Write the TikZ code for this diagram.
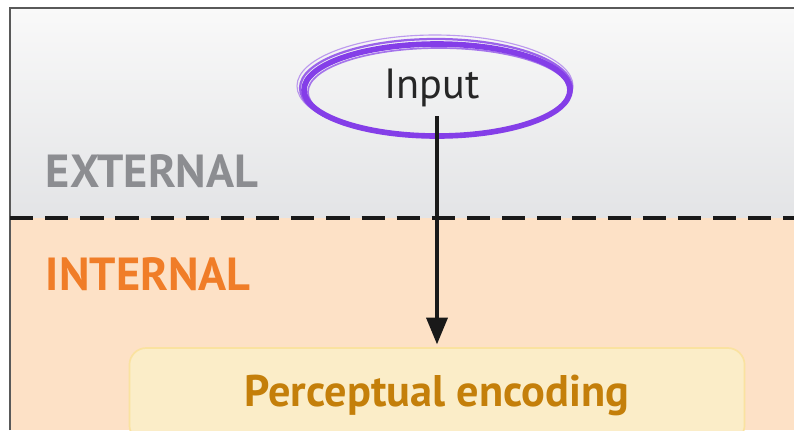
\documentclass[tikz,border=0pt]{standalone}
\usepackage{fontspec}
\setmainfont{PT Sans}
\definecolor{extgray}{RGB}{140,141,145}
\definecolor{exttop}{RGB}{249,249,249}
\definecolor{extbot}{RGB}{227,228,230}
\definecolor{intpeach}{RGB}{253,225,198}
\definecolor{intorange}{RGB}{240,125,40}
\definecolor{encfill}{RGB}{251,237,200}
\definecolor{encedge}{RGB}{250,226,160}
\definecolor{enctext}{RGB}{196,127,10}
\definecolor{inpurple}{RGB}{132,62,232}
\usetikzlibrary{arrows.meta,positioning,shapes.geometric}

\begin{document}
\begin{tikzpicture}[x=0.025cm, y=-0.025cm,
  zone/.style={font=\fontsize{33}{33}\selectfont\bfseries, anchor=west},
  bx/.style={rounded corners=12pt, draw=encedge, fill=encfill, line width=1.2pt,
    minimum width=15.375cm, minimum height=2.35cm},
  brush/.style={inpurple, line width=#1}]
\clip (0,0) rectangle (794,430);
% Regions
\shade[top color=exttop, bottom color=extbot] (10,8) rectangle (794,218);
\fill[intpeach] (10,218) rectangle (794,430);
\draw[line width=1.5pt, black!65] (10,430) -- (10,8) -- (794,8);
\draw[line width=2.2pt, black!90, dash pattern=on 16.5pt off 8.5pt] (10,218) -- (794,218);
\node[zone, extgray] (external) at (41,171) {EXTERNAL};
\node[zone, intorange] (internal) at (41,274) {INTERNAL};
% Input
\node[font=\fontsize{30}{30}\selectfont, text=black!85] (input) at (432,88) {Input};
\draw[brush=4pt] (437,90) ellipse (133 and 46);
\draw[brush=1.6pt, opacity=0.8] (436,88) ellipse (136 and 49);
\draw[brush=1.2pt, opacity=0.7] (439,92) ellipse (131 and 44);
\draw[brush=0.8pt, opacity=0.5] (435,86) ellipse (138 and 51);
% Encoding
\node[bx, font=\fontsize{31.5}{32}\selectfont\bfseries, text=enctext] (encoding) at (437,395) {Perceptual encoding};
% Arrow
\draw[-{Triangle[length=19pt, width=15pt]}, line width=2.4pt, black!90, shorten >=2pt] (437,116) -- (encoding.north);
\end{tikzpicture}
\end{document}
